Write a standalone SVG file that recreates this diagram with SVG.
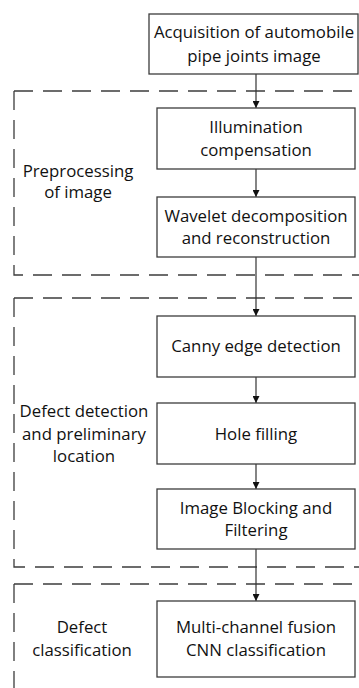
<svg xmlns="http://www.w3.org/2000/svg" width="359" height="688" viewBox="0 0 359 688">
<defs>
<marker id="ah" viewBox="0 0 8 8" refX="8" refY="4" markerWidth="7" markerHeight="7" markerUnits="userSpaceOnUse" orient="auto">
<path d="M0,0 L8,4 L0,8 Z" fill="#111"/>
</marker>
</defs>
<style>
.box{fill:#fff;stroke:#3c3c3c;stroke-width:1.3}
.grp{fill:none;stroke:#3c3c3c;stroke-width:1.3;stroke-dasharray:19 10}
.t{font-family:"Open Sans","Liberation Sans",sans-serif;font-size:16.8px;fill:#111;text-anchor:middle}
.c{fill:none;stroke:#333;stroke-width:1.2;marker-end:url(#ah)}
</style>
<g id="groups">
<g id="grp-preprocessing">
<path class="grp" d="M14,91 H420"/>
<path class="grp" d="M14,91 V275 H420"/>
<text class="t" x="78" y="177">Preprocessing</text>
<text class="t" x="78" y="198">of image</text>
</g>
<g id="grp-detection">
<path class="grp" d="M14,298 H420"/>
<path class="grp" d="M14,298 V567 H420"/>
<text class="t" x="84" y="417">Defect detection</text>
<text class="t" x="84" y="440">and preliminary</text>
<text class="t" x="84" y="462">location</text>
</g>
<g id="grp-classification">
<path class="grp" d="M14,584 H420"/>
<path class="grp" d="M14,584 V700"/>
<text class="t" x="82" y="633">Defect</text>
<text class="t" x="82" y="656">classification</text>
</g>
</g>
<g id="connectors">
<path class="c" d="M256,74 V108"/>
<path class="c" d="M256,169 V197"/>
<path class="c" d="M256,257 V316"/>
<path class="c" d="M256,377 V403"/>
<path class="c" d="M256,464 V489"/>
<path class="c" d="M256,549 V601"/>
</g>
<g id="n-acquisition">
<rect class="box" x="149" y="14" width="209" height="60"/>
<text class="t" x="254" y="38">Acquisition of automobile</text>
<text class="t" x="254" y="62">pipe joints image</text>
</g>
<g id="n-illumination">
<rect class="box" x="157" y="108" width="198" height="61"/>
<text class="t" x="256" y="133">Illumination</text>
<text class="t" x="256" y="156">compensation</text>
</g>
<g id="n-wavelet">
<rect class="box" x="157" y="197" width="198" height="60"/>
<text class="t" x="256" y="222">Wavelet decomposition</text>
<text class="t" x="256" y="244">and reconstruction</text>
</g>
<g id="n-canny">
<rect class="box" x="157" y="316" width="198" height="61"/>
<text class="t" x="256" y="352">Canny edge detection</text>
</g>
<g id="n-hole">
<rect class="box" x="157" y="403" width="198" height="61"/>
<text class="t" x="256" y="440">Hole filling</text>
</g>
<g id="n-blocking">
<rect class="box" x="157" y="489" width="198" height="60"/>
<text class="t" x="256" y="514">Image Blocking and</text>
<text class="t" x="256" y="536">Filtering</text>
</g>
<g id="n-cnn">
<rect class="box" x="157" y="601" width="198" height="76"/>
<text class="t" x="256" y="633">Multi-channel fusion</text>
<text class="t" x="256" y="656">CNN classification</text>
</g>
</svg>
